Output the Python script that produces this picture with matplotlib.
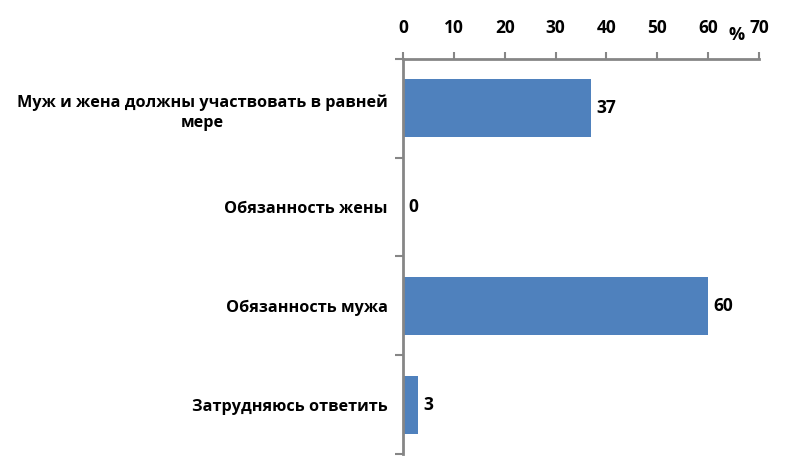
import matplotlib.pyplot as plt
from matplotlib.transforms import offset_copy

categories = ["Муж и жена должны участвовать в равней\nмере",
              "Обязанность жены",
              "Обязанность мужа",
              "Затрудняюсь ответить"]
values = [37, 0, 60, 3]
xticks = [0, 10, 20, 30, 40, 50, 60, 70]

plt.rcParams['font.family'] = ['Open Sans', 'DejaVu Sans']
plt.rcParams['font.weight'] = 'bold'

fig = plt.figure(figsize=(7.87, 4.71), dpi=100)
ax = fig.add_axes([0.512, 0.036, 0.4525, 0.839])

pos = list(range(len(categories)))
ax.barh(pos, values, height=0.59, color="#4F81BD")
ax.set_ylim(len(categories) - 0.5, -0.5)
ax.set_xlim(0, 70)

for p, v in zip(pos, values):
    ax.text(v + 1.0, p, str(v), va='center', ha='left', fontsize=12.5, fontweight='bold')

ax.xaxis.tick_top()
ax.set_xticks(xticks)
ax.set_xticklabels([str(t) for t in xticks], fontsize=12.5, fontweight='bold')
ax.tick_params(axis='x', direction='out', length=5, width=1.5, color='#868686', pad=11)

ax.set_yticks([i - 0.5 for i in range(len(categories) + 1)], minor=False)
ax.set_yticklabels([])
ax.set_yticks(pos, minor=True)
ax.set_yticklabels(categories, minor=True, fontsize=11.7, fontweight='bold',
                   multialignment='center', linespacing=1.4)
ax.tick_params(axis='y', which='major', direction='out', length=6, width=1.5, color='#868686')
ax.tick_params(axis='y', which='minor', length=0, pad=11)

for s in ['right', 'bottom']:
    ax.spines[s].set_visible(False)
for s in ['top', 'left']:
    ax.spines[s].set_color('#868686')
    ax.spines[s].set_linewidth(2)

ax.text(65.5, 1.061, "%", transform=ax.get_xaxis_transform(), ha='center', va='center',
        fontsize=13, fontweight='bold')

fig.savefig("out.png", dpi=100)
